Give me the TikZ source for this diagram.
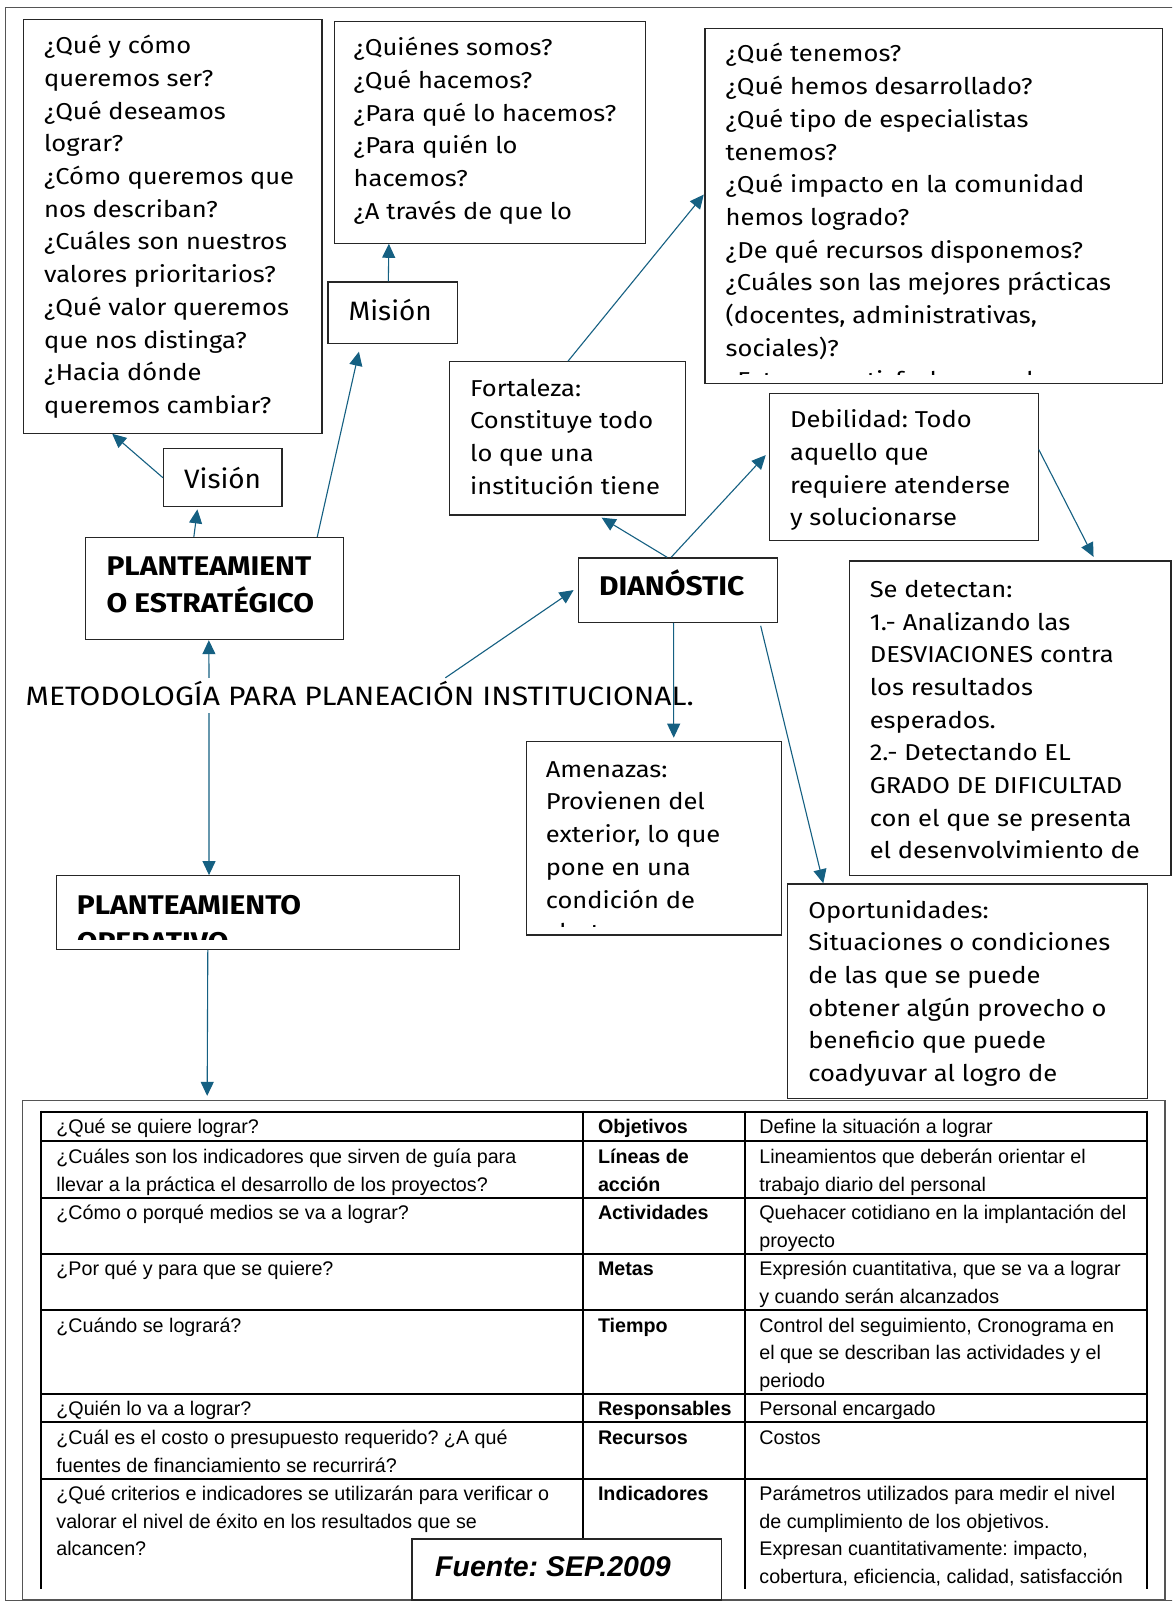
\documentclass[tikz,border=0pt]{standalone}
\usepackage{fontspec}
\usetikzlibrary{arrows.meta,calc}
\newfontfamily\aptos[FakeStretch=1.11]{Fira Sans}
\newfontfamily\aptostitle[FakeStretch=1.13]{Fira Sans}
\newfontfamily\aptoslabel[FakeStretch=1.05]{Fira Sans}
\newfontfamily\arialf{Liberation Sans}
\definecolor{arrowblue}{HTML}{156082}
\definecolor{boxline}{HTML}{262626}
\definecolor{frameline}{HTML}{555555}
\newcommand\bodyfont{\aptos\fontsize{23}{32.7}\selectfont}
\newcommand\labelfont{\aptoslabel\fontsize{26.6}{32.7}\selectfont}
\newcommand\titlefont{\aptostitle\fontsize{26.6}{32.7}\selectfont}
\newcommand\headfont{\aptos\bfseries\fontsize{27}{36.8}\selectfont}
\newcommand\tablefont{\arialf\fontsize{19.7}{27.6}\selectfont}
\newcommand\tableboldfont{\arialf\bfseries\fontsize{19.7}{27.6}\selectfont}
% strut that fixes the height of the first line (node top = first baseline - 28)
\newcommand\firstline{\rule{0pt}{28pt}}
% strut for table cells (node top = first baseline - 22)
\newcommand\cellline{\rule{0pt}{22pt}}
% rectangle node given by its corners: name, x1, y1, x2, y2, style
\newcommand\rectnode[6]{%
  \node[#6, minimum width={(#4)-(#2)}, minimum height={(#5)-(#3)}]
    (#1) at ({((#2)+(#4))/2},{((#3)+(#5))/2}) {};}
\frenchspacing

\begin{document}
\begin{tikzpicture}[x=1pt,y=-1pt,
  box/.style={draw=boxline, line width=1.2pt, fill=white, rectangle, inner sep=0pt},
  framebox/.style={draw=frameline, line width=1.3pt, rectangle, inner sep=0pt},
  txt/.style={inner sep=0pt, anchor=north west, align=left, font=\bodyfont},
  lbl/.style={inner sep=0pt, anchor=north west, align=left, font=\labelfont},
  head/.style={inner sep=0pt, anchor=north west, align=left, font=\headfont},
  cell/.style={inner sep=0pt, anchor=north west, align=left, font=\tablefont},
  cellb/.style={inner sep=0pt, anchor=north west, align=left, font=\tableboldfont},
  arr/.style={draw=arrowblue, line width=1.1pt, -{Triangle[length=14pt,width=13pt]}},
  grid/.style={draw=black, line width=2pt},
]
\useasboundingbox (0,0) rectangle (1172,1602);
\fill[white] (0,0) rectangle (1172,1602);
\clip (0,0) rectangle (1172,1602);

% outer page frame
\draw[frameline, line width=1.3pt] (5.5,7.5) rectangle (1180,1600.5);

% ---------- upper boxes ----------
\rectnode{vq}{23.5}{19.4}{321.9}{433.2}{box}
\node[txt] (vqt) at (43.9,{53.5-28}) {\firstline ¿Qué y cómo\\queremos ser?\\¿Qué deseamos\\lograr?\\¿Cómo queremos que\\nos describan?\\¿Cuáles son nuestros\\valores prioritarios?\\¿Qué valor queremos\\que nos distinga?\\¿Hacia dónde\\queremos cambiar?};

\rectnode{mq}{334.1}{21.5}{645.8}{243.2}{box}
\node[txt] (mqt) at (353.5,{55.5-28}) {\firstline ¿Quiénes somos?\\¿Qué hacemos?\\¿Para qué lo hacemos?\\¿Para quién lo\\hacemos?\\¿A través de que lo};

\rectnode{tr}{705}{28.6}{1162.8}{383.2}{box}
\begin{scope}
  \clip (705,28.6) rectangle (1162.8,374.3);
  \node[txt] (trt) at (725.5,{61.7-28}) {\firstline ¿Qué tenemos?\\¿Qué hemos desarrollado?\\¿Qué tipo de especialistas\\tenemos?\\¿Qué impacto en la comunidad\\hemos logrado?\\¿De qué recursos disponemos?\\¿Cuáles son las mejores prácticas\\(docentes, administrativas,\\sociales)?\\¿Estamos satisfechos con lo que};
\end{scope}

\rectnode{mis}{328}{282}{457.8}{343.3}{box}
\node[lbl] (mist) at (348.4,{320-28}) {\firstline Misión};

\rectnode{vis}{163.5}{448.6}{282}{506.8}{box}
\node[lbl] (vist) at (183.9,{488.3-28}) {\firstline Visión};

\rectnode{pe}{85.8}{537.5}{343.3}{639.6}{box}
\node[head] (pet) at (106.3,{575.7-28}) {\firstline PLANTEAMIENT\\O ESTRATÉGICO};

\rectnode{fort}{449.6}{361.7}{685.6}{515}{box}
\node[txt] (fortt) at (470,{395.8-28}) {\firstline Fortaleza:\\Constituye todo\\lo que una\\institución tiene};

\rectnode{deb}{769.4}{393.4}{1038.1}{540.5}{box}
\node[txt] (debt) at (789.9,{427.5-28}) {\firstline Debilidad: Todo\\aquello que\\requiere atenderse\\y solucionarse};

\rectnode{dia}{578.3}{557.9}{777.6}{622.3}{box}
\node[head] (diat) at (598.8,{595.2-28}) {\firstline DIANÓSTIC};

\rectnode{sd}{849.1}{561}{1171}{875.7}{box}
\node[txt] (sdt) at (869.6,{597.1-28}) {\firstline Se detectan:\\1.- Analizando las\\DESVIACIONES contra\\los resultados\\esperados.\\2.- Detectando EL\\GRADO DE DIFICULTAD\\con el que se presenta\\el desenvolvimiento de};

\node[inner sep=0pt, anchor=base west, font=\titlefont, text height=27pt, text depth=8pt]
  (met) at (25.5,705) {METODOLOGÍA PARA PLANEACIÓN INSTITUCIONAL.};

\rectnode{amen}{526.2}{741.8}{781.7}{935}{box}
\begin{scope}
  \clip (526.2,741.8) rectangle (781.7,926);
  \node[txt] (amet) at (545.6,{777-28}) {\firstline Amenazas:\\Provienen del\\exterior, lo que\\pone en una\\condición de\\alerta};
\end{scope}

\rectnode{opp}{787.8}{883.9}{1147.5}{1098.4}{box}
\node[txt] (oppt) at (808.2,{917.9-28}) {\firstline Oportunidades:\\Situaciones o condiciones\\de las que se puede\\obtener algún provecho o\\beneficio que puede\\coadyuvar al logro de};

\rectnode{po}{56.2}{875.7}{459.8}{949.3}{box}
\begin{scope}
  \clip (56.2,875.7) rectangle (459.8,939);
  \node[head] (pot) at (76.6,{914-28}) {\firstline PLANTEAMIENTO\\OPERATIVO};
\end{scope}

% ---------- connectors ----------
\draw[arr] (vis.west) -- ($(vq.south west)!0.298!(vq.south east)$);
\draw[arr, shorten >=2pt] ($(pe.north west)!0.42!(pe.north east)$) -- ($(vis.south west)!0.29!(vis.south east)$);
\draw[arr, shorten >=8pt] ($(pe.north west)!0.897!(pe.north east)$) -- ($(mis.south west)!0.254!(mis.south east)$);
\draw[arr] ($(mis.north west)!0.465!(mis.north east)$) -- ($(mq.south west)!0.177!(mq.south east)$);
\draw[arr, shorten >=1pt] ($(fort.north west)!0.502!(fort.north east)$) -- ($(tr.north west)!0.466!(tr.south west)$);
\draw[arr, shorten >=4pt] ($(dia.north west)!0.446!(dia.north east)$) -- ($(fort.south west)!0.629!(fort.south east)$);
\draw[arr, shorten >=4.5pt] ($(dia.north west)!0.466!(dia.north east)$) -- ($(deb.north west)!0.398!(deb.south west)$);
\draw[arr, shorten >=4pt] ($(deb.north east)!0.382!(deb.south east)$) -- ($(sd.north west)!0.764!(sd.north east)$);
\draw[arr, shorten >=5pt] ($(met.north west)+(419.9,0)$) -- ($(dia.north west)!0.457!(dia.south west)$);
\draw[arr, shorten >=3.5pt] ($(dia.south west)!0.478!(dia.south east)$) -- ($(amen.north west)!0.577!(amen.north east)$);
\draw[arr, shorten <=3pt] ($(dia.south west)!0.909!(dia.south east)$) -- ($(opp.north west)!0.1!(opp.north east)$);
\draw[arr] ($(met.north west)+(183.5,0)$) -- ($(pe.south west)!0.478!(pe.south east)$);
\draw[arr] ($(met.south west)+(183.5,0)$) -- ($(po.north west)!0.379!(po.north east)$);

% ---------- table ----------
\rectnode{tblf}{22.5}{1100.5}{1165}{1600}{framebox}
\draw[arr, shorten >=4pt] ($(po.south west)!0.376!(po.south east)$) -- ($(tblf.north west)!0.162!(tblf.north east)$);

\foreach \yy in {1111.7,1141.4,1197.5,1253.7,1310,1393.7,1422.3,1478.5}
  \draw[grid] (40.9,\yy) -- (1146.5,\yy);
\foreach \xx in {40.9,583.4,744.9,1146.5}
  \draw[grid] (\xx,1110.7) -- (\xx,1589);

\node[cell] (c11) at (56.2,{1133.7-22}) {\cellline ¿Qué se quiere lograr?};
\node[cellb] (c12) at (597.8,{1133.7-22}) {\cellline Objetivos};
\node[cell] (c13) at (759.2,{1133.7-22}) {\cellline Define la situación a lograr};

\node[cell] (c21) at (56.2,{1163.4-22}) {\cellline ¿Cuáles son los indicadores que sirven de guía para\\llevar a la práctica el desarrollo de los proyectos?};
\node[cellb] (c22) at (597.8,{1163.4-22}) {\cellline Líneas de\\acción};
\node[cell] (c23) at (759.2,{1163.4-22}) {\cellline Lineamientos que deberán orientar el\\trabajo diario del personal};

\node[cell] (c31) at (56.2,{1219.5-22}) {\cellline ¿Cómo o porqué medios se va a lograr?};
\node[cellb] (c32) at (597.8,{1219.5-22}) {\cellline Actividades};
\node[cell] (c33) at (759.2,{1219.5-22}) {\cellline Quehacer cotidiano en la implantación del\\proyecto};

\node[cell] (c41) at (56.2,{1275.7-22}) {\cellline ¿Por qué y para que se quiere?};
\node[cellb] (c42) at (597.8,{1275.7-22}) {\cellline Metas};
\node[cell] (c43) at (759.2,{1275.7-22}) {\cellline Expresión cuantitativa, que se va a lograr\\y cuando serán alcanzados};

\node[cell] (c51) at (56.2,{1332-22}) {\cellline ¿Cuándo se logrará?};
\node[cellb] (c52) at (597.8,{1332-22}) {\cellline Tiempo};
\node[cell] (c53) at (759.2,{1332-22}) {\cellline Control del seguimiento, Cronograma en\\el que se describan las actividades y el\\periodo};

\node[cell] (c61) at (56.2,{1415.7-22}) {\cellline ¿Quién lo va a lograr?};
\node[cellb] (c62) at (597.8,{1415.7-22}) {\cellline Responsables};
\node[cell] (c63) at (759.2,{1415.7-22}) {\cellline Personal encargado};

\node[cell] (c71) at (56.2,{1444.3-22}) {\cellline ¿Cuál es el costo o presupuesto requerido? ¿A qué\\fuentes de financiamiento se recurrirá?};
\node[cellb] (c72) at (597.8,{1444.3-22}) {\cellline Recursos};
\node[cell] (c73) at (759.2,{1444.3-22}) {\cellline Costos};

\node[cell] (c81) at (56.2,{1500.5-22}) {\cellline ¿Qué criterios e indicadores se utilizarán para verificar o\\valorar el nivel de éxito en los resultados que se\\alcancen?};
\node[cellb] (c82) at (597.8,{1500.5-22}) {\cellline Indicadores};
\node[cell] (c83) at (759.2,{1500.5-22}) {\cellline Parámetros utilizados para medir el nivel\\de cumplimiento de los objetivos.\\Expresan cuantitativamente: impacto,\\cobertura, eficiencia, calidad, satisfacción};

% source note
\rectnode{src}{412}{1539}{721.5}{1600}{box}
\node[inner sep=0pt, anchor=base west, font={\arialf\bfseries\itshape\fontsize{28.5}{32}\selectfont}] (srct) at (435,1576) {Fuente: SEP.2009};
\end{tikzpicture}
\end{document}
